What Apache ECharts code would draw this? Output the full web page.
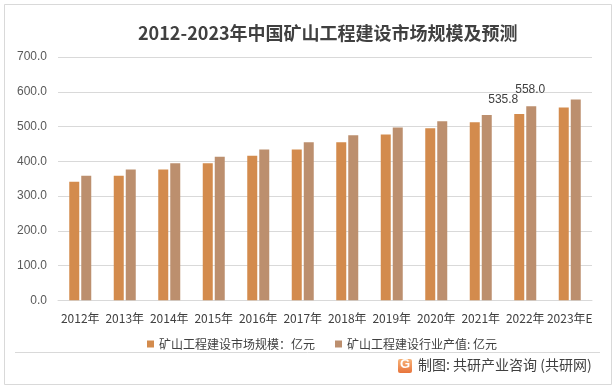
<!DOCTYPE html>
<html>
<head>
<meta charset="utf-8">
<script src="https://cdn.jsdelivr.net/npm/echarts@6/dist/echarts.min.js"></script>
<style>
html,body{margin:0;padding:0;background:#fff;}
#c{width:616px;height:389px;}
</style>
</head>
<body>
<div id="c"></div>
<script>
var categories = ['2012年','2013年','2014年','2015年','2016年','2017年','2018年','2019年','2020年','2021年','2022年','2023年E'];
var marketSize = [341, 358, 376, 394, 416, 434, 455, 477, 495, 512, 535.8, 555];
var outputValue = [358, 376, 394, 413, 434, 455, 475, 497, 515, 533, 558.0, 578];
var seriesNames = ['矿山工程建设市场规模：亿元', '矿山工程建设行业产值: 亿元'];
var labeledIndex = 10;
var titleText = '2012-2023年中国矿山工程建设市场规模及预测';
var sourceText = '制图: 共研产业咨询 (共研网)';

var FONT = '"Noto Sans CJK SC", "Liberation Sans", sans-serif';

function withLabel(arr, offset) {
  return arr.map(function (v, i) {
    if (i === labeledIndex) {
      return {
        value: v,
        label: {
          show: true, position: 'top', offset: offset,
          formatter: function (p) { return p.value.toFixed(1); },
          color: '#404040', fontSize: 12, fontFamily: '"Liberation Sans", sans-serif'
        }
      };
    }
    return v;
  });
}

var chart = echarts.init(document.getElementById('c'), null, {renderer: 'canvas'});
chart.setOption({
  animation: false,
  backgroundColor: '#ffffff',
  textStyle: {fontFamily: FONT},
  title: {
    text: titleText,
    left: 133, top: 19,
    textStyle: {fontSize: 18, fontWeight: 'bold', color: '#404040', fontFamily: FONT}
  },
  grid: {left: 58, right: 24, top: 57, bottom: 88.7},
  legend: {
    left: 142, top: 333,
    itemWidth: 7, itemHeight: 7, itemGap: 20,
    icon: 'rect',
    textStyle: {fontSize: 12, color: '#404040', fontFamily: FONT},
    data: seriesNames
  },
  xAxis: {
    type: 'category',
    data: categories,
    axisTick: {show: false},
    axisLine: {lineStyle: {color: '#d9d9d9', width: 1}},
    axisLabel: {color: '#404040', fontSize: 12, margin: 12, interval: 0, fontFamily: FONT}
  },
  yAxis: {
    type: 'value',
    min: 0, max: 700, interval: 100,
    axisLine: {show: false},
    axisTick: {show: false},
    splitLine: {lineStyle: {color: '#d9d9d9', width: 1}},
    axisLabel: {
      color: '#595959', fontSize: 12, margin: 11, fontFamily: '"Liberation Sans", sans-serif',
      formatter: function (v) { return v.toFixed(1); }
    }
  },
  series: [
    {
      name: seriesNames[0], type: 'bar', barWidth: 10, barGap: '20%',
      itemStyle: {color: '#D38B4D'},
      data: withLabel(marketSize, [-16, -3])
    },
    {
      name: seriesNames[1], type: 'bar', barWidth: 10, barGap: '20%',
      itemStyle: {color: '#BC8F6E'},
      data: withLabel(outputValue, [-1, -6])
    }
  ],
  graphic: [
    {type: 'rect', shape: {x: 4.5, y: 4.5, width: 607, height: 380}, style: {fill: 'none', stroke: '#d9d9d9', lineWidth: 1}, silent: true},
    {type: 'line', shape: {x1: 15, y1: 352.5, x2: 600, y2: 352.5}, style: {stroke: '#d9d9d9', lineWidth: 1}, silent: true},
    {type: 'rect', shape: {x: 398, y: 359, width: 14, height: 14, r: 2},
      style: {fill: new echarts.graphic.LinearGradient(0, 0, 0, 1, [{offset: 0, color: '#F7B37A'}, {offset: 1, color: '#E8743B'}])}, silent: true},
    {type: 'text', left: 400, top: 358, style: {text: 'G', fill: '#ffffff', fontSize: 13, fontWeight: 'bold', fontFamily: '"Liberation Sans", sans-serif'}, silent: true},
    {type: 'text', left: 418, top: 358, style: {text: sourceText, fill: '#404040', fontSize: 14, fontFamily: FONT}, silent: true}
  ]
});
</script>
</body>
</html>
